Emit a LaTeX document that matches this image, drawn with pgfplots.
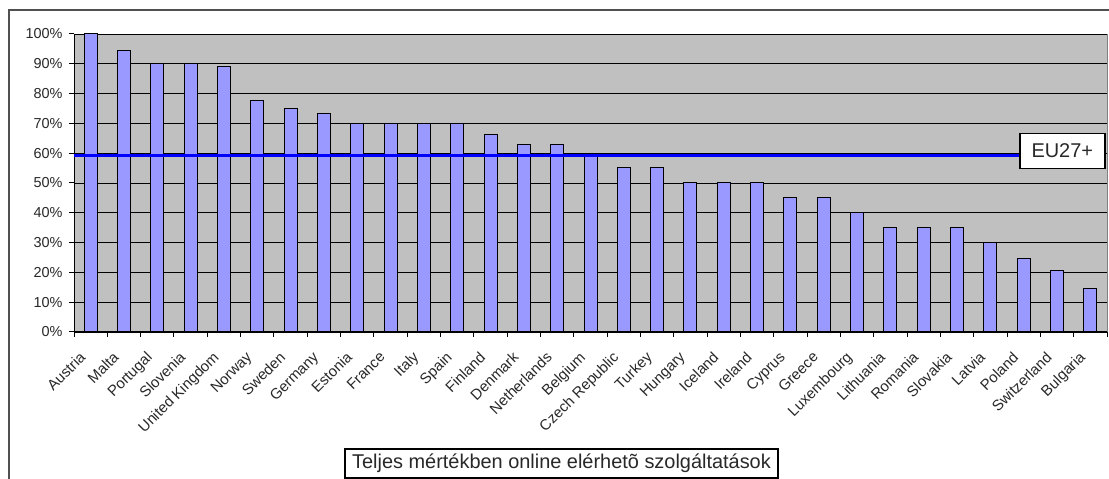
\documentclass[border=0pt]{standalone}
\usepackage{pgfplots}
\pgfplotsset{compat=1.18}
\usepackage{fontspec}
\setmainfont{Liberation Sans}
\definecolor{barblue}{RGB}{153,153,255}
\definecolor{plotgray}{RGB}{192,192,192}
\definecolor{framegray}{RGB}{80,80,80}
\definecolor{txt}{RGB}{40,40,40}
\begin{document}
\begin{tikzpicture}[x=1bp,y=1bp]
\path[use as bounding box] (0,0) rectangle (1109,479);
\draw[framegray, line width=2bp] (9,-2) -- (9,469) -- (1111,469);
\begin{axis}[
  at={(74bp,147bp)}, anchor=south west,
  width=1033bp, height=298bp, scale only axis,
  xmin=-0.5, xmax=30.5, ymin=0, ymax=100,
  axis background/.style={fill=plotgray},
  axis x line*=bottom, axis y line*=left,
  axis line style={black, line width=1bp},
  ymajorgrids, major grid style={black, line width=0.9bp},
  ytick={0,10,...,100},
  yticklabels={0\%,10\%,20\%,30\%,40\%,50\%,60\%,70\%,80\%,90\%,100\%},
  yticklabel style={font=\fontsize{14.5}{14.5}\selectfont, text=txt, xshift=-3bp},
  xtick={0,...,30},
  xticklabels={Austria,Malta,Portugal,Slovenia,United Kingdom,Norway,Sweden,Germany,Estonia,France,Italy,Spain,Finland,Denmark,Netherlands,Belgium,Czech Republic,Turkey,Hungary,Iceland,Ireland,Cyprus,Greece,Luxembourg,Lithuania,Romania,Slovakia,Latvia,Poland,Switzerland,Bulgaria},
  xticklabel style={rotate=45, anchor=north east, font=\fontsize{15}{15}\selectfont, text=txt, inner sep=1bp, xshift=-17bp, yshift=0bp},
  minor xtick={-0.5,0.5,...,30.5},
  major x tick style={draw=none},
  tick align=outside, major tick length=5bp, minor tick length=5bp,
  tick style={black, line width=1bp},
  clip=false,
]
\addplot[ybar, bar width=0.39, fill=barblue, draw=black, line width=1bp] coordinates {
(0,100) (1,94.5) (2,90) (3,90) (4,89) (5,77.7) (6,75) (7,73.3) (8,70) (9,70)
(10,70) (11,70) (12,66.3) (13,63) (14,63) (15,59.5) (16,55.3) (17,55.3) (18,50) (19,50)
(20,50) (21,45) (22,45) (23,40) (24,35) (25,35) (26,35) (27,30) (28,24.6) (29,20.8) (30,14.7)
};
\addplot[color={rgb,255:red,0;green,0;blue,255}, line width=3.5bp] coordinates {(-0.5,59.3) (27.86,59.3)};
\draw[gray, line width=1bp] (rel axis cs:1,0) -- (rel axis cs:1,1);
\node[draw=black, line width=1.5bp, fill=white, anchor=west, minimum width=85bp, minimum height=35bp, inner sep=0pt, font=\fontsize{20}{20}\selectfont, text=txt] at (axis cs:27.86,60.7) {EU27+};
\end{axis}
\node[draw=black, line width=2bp, fill=white, minimum width=433bp, minimum height=29bp, inner sep=0pt, font=\fontsize{20}{20}\selectfont, text=txt] at (561.5,15.5) {Teljes mértékben online elérhetõ szolgáltatások};
\end{tikzpicture}
\end{document}
